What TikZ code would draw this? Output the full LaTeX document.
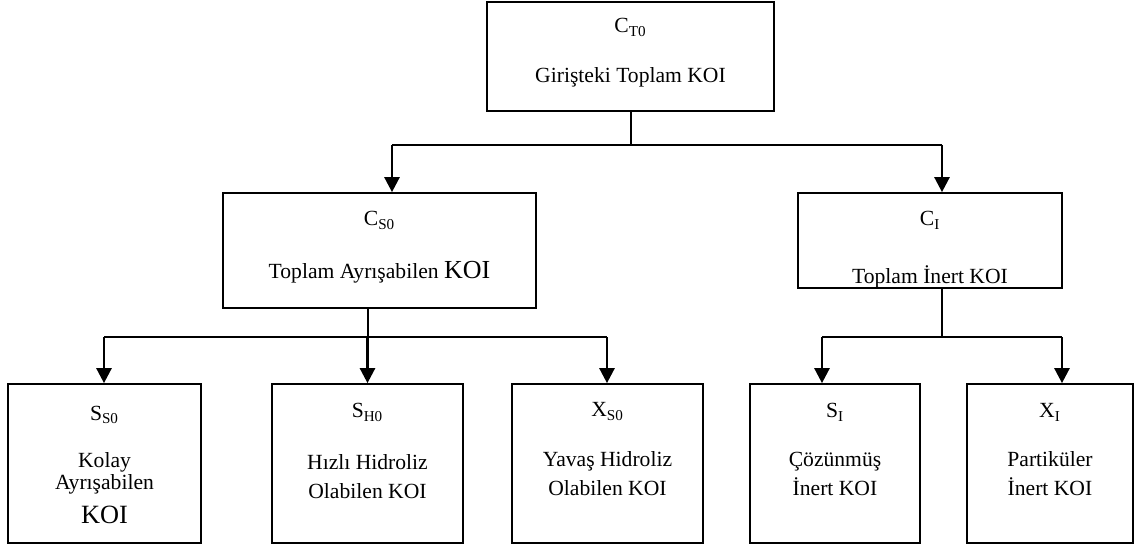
\documentclass[tikz,border=0pt]{standalone}
\usepackage{fontspec}
\setmainfont{Liberation Serif}
\usetikzlibrary{arrows.meta,positioning}
\newcommand*\bigkoi{{\fontsize{14.8}{16}\selectfont KOI}}
\tikzset{
	box/.style={draw,line width=1pt,inner sep=0pt},
	conn/.style={line width=1.1pt},
	arr/.style={line width=1.5pt,-{Triangle[length=8.5pt,width=8.5pt]}},
	txt/.style={align=center,anchor=base,inner sep=0pt,font=\fontsize{12.3}{16}\selectfont}
}

\begin{document}
\begin{tikzpicture}[x=0.02cm,y=-0.02cm]
	\useasboundingbox (0,0) rectangle (1134,544);
	
	% boxes
	\node[box,minimum width=5.74cm,minimum height=2.18cm] (top) at (630.5,56.5) {};
	\node[box,minimum width=6.26cm,minimum height=2.30cm] (cs) at (379.5,250.5) {};
	\node[box,minimum width=5.28cm,minimum height=1.90cm] (ci) at (930,240.5) {};
	\node[box,minimum width=3.86cm,minimum height=3.18cm] (ss) at (104.5,463.5) {};
	\node[box,minimum width=3.82cm,minimum height=3.18cm] (sh) at (367.5,463.5) {};
	\node[box,minimum width=3.82cm,minimum height=3.18cm] (xs) at (607.5,463.5) {};
	\node[box,minimum width=3.40cm,minimum height=3.18cm] (si) at (835,463.5) {};
	\node[box,minimum width=3.32cm,minimum height=3.18cm] (xi) at (1050,463.5) {};
	
	% texts (multi-line: anchor sits on the last line)
	\node[txt] (topL) at (630.5,33) {C\textsubscript{T0}};
	\node[txt] (topD) at (630.5,83) {Girişteki Toplam KOI};
	\node[txt] (csL) at (379.5,226) {C\textsubscript{S0}};
	\node[txt] (csD) at (379.5,278) {Toplam Ayrışabilen \bigkoi};
	\node[txt] (ciL) at (930,226) {C\textsubscript{I}};
	\node[txt] (ciD) at (930,283) {Toplam İnert KOI};
	\node[txt] (ssL) at (104.5,420) {S\textsubscript{S0}};
	\node[txt,font=\fontsize{12.3}{13}\selectfont] (ssD) at (104.5,523)
		{Kolay\\Ayrışabilen\\[5.8pt]{\fontsize{15}{16}\selectfont KOI}};
	\node[txt] (shL) at (367.5,418) {S\textsubscript{H0}};
	\node[txt] (shD) at (367.5,498) {Hızlı Hidroliz\\Olabilen KOI};
	\node[txt] (xsL) at (607.5,417) {X\textsubscript{S0}};
	\node[txt] (xsD) at (607.5,495) {Yavaş Hidroliz\\Olabilen KOI};
	\node[txt] (siL) at (835,418) {S\textsubscript{I}};
	\node[txt] (siD) at (835,495) {Çözünmüş\\İnert KOI};
	\node[txt] (xiL) at (1050,418) {X\textsubscript{I}};
	\node[txt] (xiD) at (1050,495) {Partiküler\\İnert KOI};
	
	% junctions
	\coordinate (j0) at (631,145);
	\coordinate (acs) at (392,145);
	\coordinate (aci) at (942,145);
	\coordinate (j1) at (368,337);
	\coordinate (j2) at (942,337);
	\coordinate (ass) at (104,337);
	\coordinate (axs) at (607,337);
	\coordinate (asi) at (822,337);
	\coordinate (axi) at (1062,337);
	
	% connectors
	\draw[conn] (j0 |- top.south) -- (j0);
	\draw[conn] (acs) -- (aci);
	\draw[arr] (acs) -- (acs |- cs.north);
	\draw[arr] (aci) -- (aci |- ci.north);
	
	\draw[conn] (j1 |- cs.south) -- (j1);
	\draw[conn] (ass) -- (axs);
	\draw[arr] (ass) -- (ass |- ss.north);
	\draw[arr] (sh.north |- j1) -- (sh.north);
	\draw[arr] (axs) -- (axs |- xs.north);
	
	\draw[conn] (j2 |- ci.south) -- (j2);
	\draw[conn] (asi) -- (axi);
	\draw[arr] (asi) -- (asi |- si.north);
	\draw[arr] (axi) -- (axi |- xi.north);
\end{tikzpicture}
\end{document}
